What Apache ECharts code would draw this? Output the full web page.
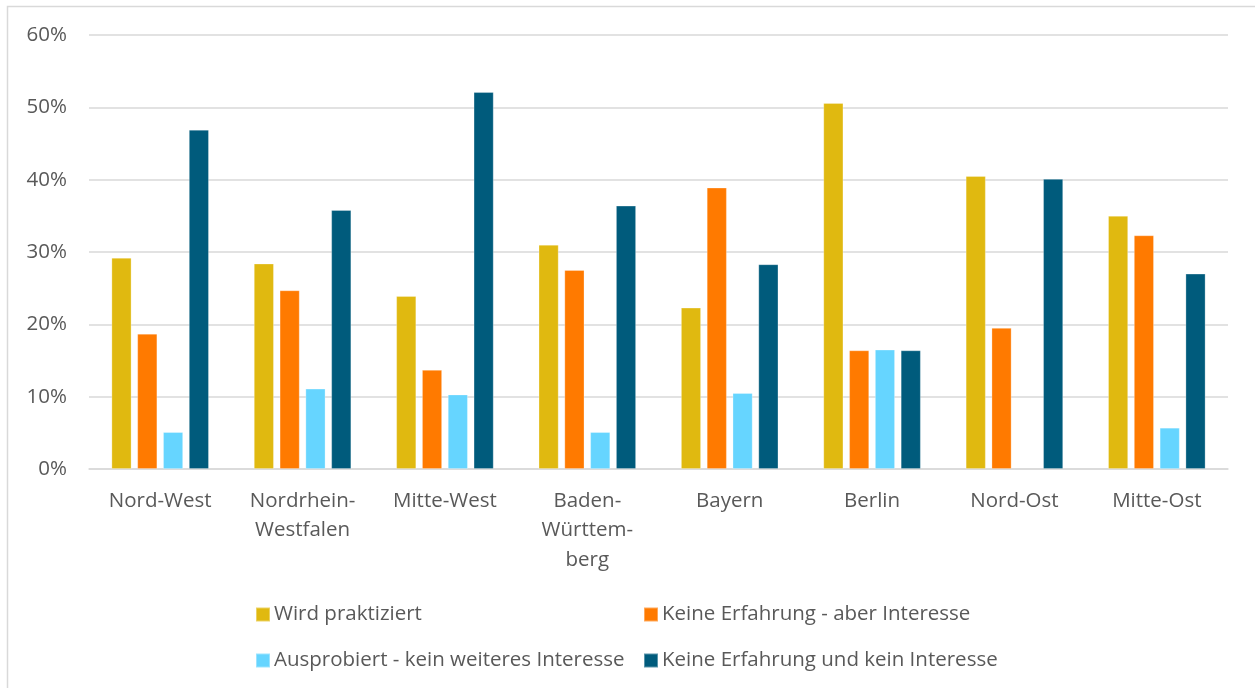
<!DOCTYPE html>
<html><head><meta charset="utf-8">
<script src="https://cdn.jsdelivr.net/npm/echarts@6/dist/echarts.min.js"></script>
<style>html,body{margin:0;padding:0;background:#fff}#c{width:1255px;height:688px}</style>
</head><body><div id="c"></div>
<script>
const categories = ["Nord-West","Nordrhein-\nWestfalen","Mitte-West","Baden-\nWürttem-\nberg","Bayern","Berlin","Nord-Ost","Mitte-Ost"];
const seriesNames = ["Wird praktiziert","Keine Erfahrung - aber Interesse","Ausprobiert - kein weiteres Interesse","Keine Erfahrung und kein Interesse"];
const wirdPraktiziert = [29.2, 28.4, 23.9, 31.0, 22.3, 50.6, 40.5, 35.0];
const keineErfahrungInteresse = [18.7, 24.7, 13.7, 27.5, 38.9, 16.4, 19.5, 32.3];
const ausprobiert = [5.1, 11.1, 10.3, 5.1, 10.5, 16.5, null, 5.7];
const keinInteresse = [46.9, 35.8, 52.1, 36.4, 28.3, 16.4, 40.1, 27.0];
const colors = ["#E0B910","#FF7A00","#66D5FF","#005B7C"];
const yTicks = [0,10,20,30,40,50,60];

const values = [wirdPraktiziert, keineErfahrungInteresse, ausprobiert, keinInteresse];
const chart = echarts.init(document.getElementById('c'));
const font = '"Open Sans", sans-serif';
const legendPos = [[255,604],[643,604],[255,650],[643,650]];
chart.setOption({
  animation:false,
  color: colors,
  graphic:[{type:'rect',shape:{x:7.5,y:6.5,width:1300,height:800},style:{fill:'none',stroke:'#D9D9D9',lineWidth:1.5},silent:true}],
  grid:{left:89,right:27,top:35,bottom:219,containLabel:false},
  legend: seriesNames.map((n,i)=>({
    data:[n], left:legendPos[i][0], top:legendPos[i][1], itemWidth:14, itemHeight:14, itemGap:6, padding:0,
    icon:'rect', textStyle:{color:'#595959',fontSize:20.5,fontFamily:font,padding:[0,0,0,-1]}, selectedMode:false
  })),
  xAxis:{type:'category',data:categories,
    axisLine:{lineStyle:{color:'#D9D9D9',width:1.5}},axisTick:{show:false},
    axisLabel:{color:'#595959',fontSize:20.5,fontFamily:font,lineHeight:29.5,margin:17,interval:0}},
  yAxis:{type:'value',min:0,max:60,interval:10,
    axisLabel:{formatter:v=>v+'%',color:'#595959',fontSize:20.5,fontFamily:font,margin:22},
    splitLine:{lineStyle:{color:'#D9D9D9',width:1.5}},axisLine:{show:false},axisTick:{show:false}},
  series: seriesNames.map((n,i)=>({
    name:n,type:'bar',data:values[i],barWidth:20,barGap:'29%',
    itemStyle:{color:colors[i],borderColor:'rgba(255,255,255,0.35)',borderWidth:0.8}
  }))
});
</script></body></html>
